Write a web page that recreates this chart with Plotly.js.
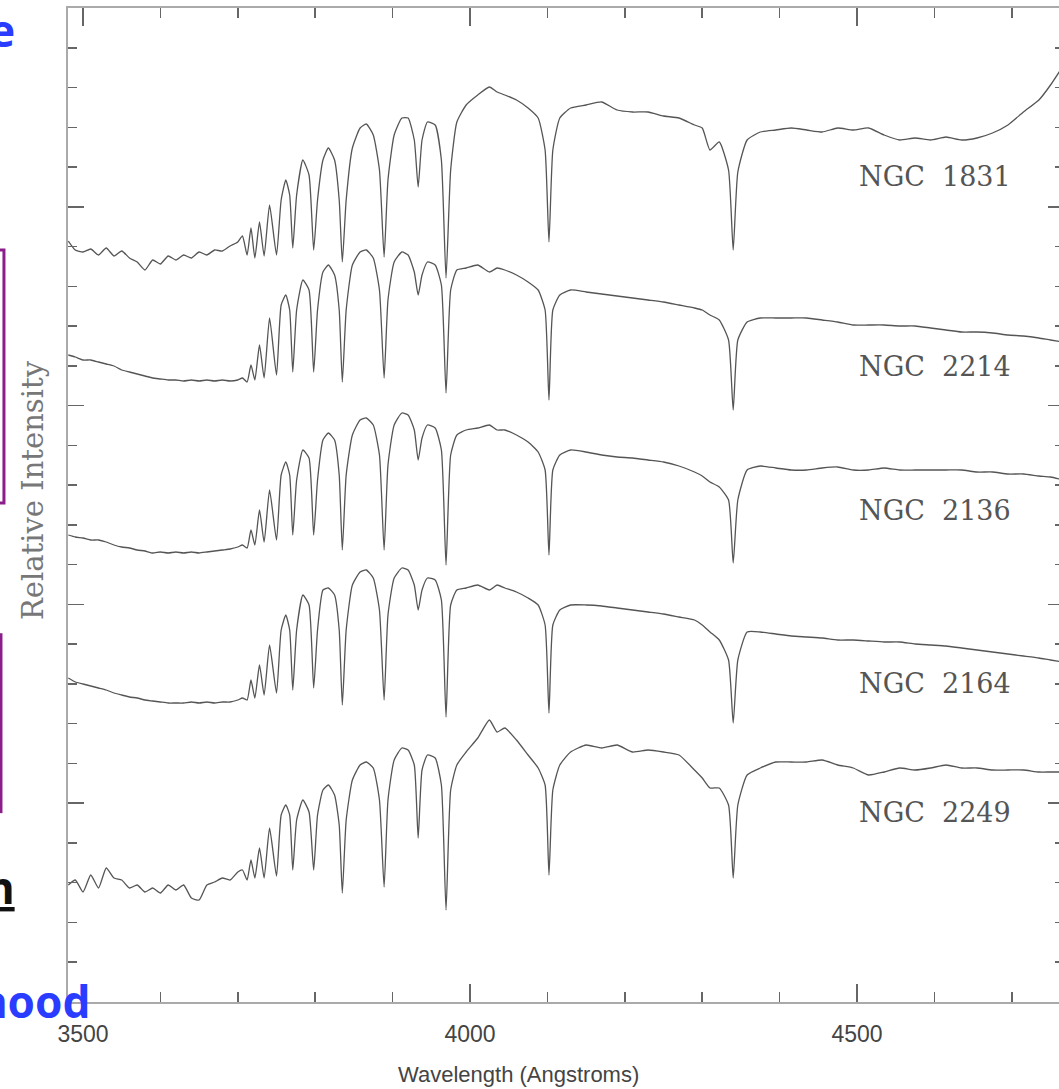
<!DOCTYPE html>
<html>
<head>
<meta charset="utf-8">
<script src="https://cdn.plot.ly/plotly-3.0.1.min.js"></script>
<style>
html,body{margin:0;padding:0;background:#fff;overflow:hidden;}
#chart{width:1074px;height:1089px;}
</style>
</head>
<body>
<div id="chart"></div>
<script>
// Wavelength grid (Angstroms)
const wavelength = [3481,3490,3500,3510,3520,3530,3540,3550,3560,3570,3580,3590,3600,3610,3620,3630,3640,3650,3660,3670,3680,3690,3700,3706,
3712,3717,3722,3728,3734,3741,3750,3756,3762,3767,3771,3776,3784,3792,3798,3803,3810,3817,3825,3831,3835,3840,3848,3858,3866,3875,3883,
3889,3894,3902,3912,3920,3928,3933,3938,3945,3955,3963,3969,3975,3983,3995,4010,4025,4035,4045,4060,4075,4088,4097,
4102,4107,4116,4130,4150,4170,4190,4210,4230,4250,4270,4290,4300,4310,4322,4334,4340,4346,4358,
4375,4395,4415,4435,4455,4475,4495,4515,4535,4555,4575,4595,4615,4635,4655,4675,4695,4715,4735,4750,4767];

// Relative intensity (with vertical offsets) for each cluster
const ngc1831 = [76.1,75.2,75.0,75.3,74.7,75.4,74.6,75.1,74.4,74.0,73.2,74.2,73.8,74.6,74.2,74.7,74.4,75.0,74.7,75.2,75.1,75.6,76.0,76.6,
74.7,77.4,74.4,78.0,74.6,79.7,74.7,80.2,82.2,80.7,75.4,80.7,84.2,82.7,75.2,80.2,84.2,85.4,84.2,80.2,74.0,80.2,85.4,87.4,87.8,86.7,83.2,
74.5,82.2,86.7,88.4,88.4,86.2,81.5,86.2,88.0,87.7,84.2,72.4,83.2,88.0,89.7,90.7,91.5,91.0,90.7,90.2,89.4,88.4,85.2,
76.0,85.2,88.4,89.4,89.7,90.0,89.2,89.0,89.0,88.6,88.4,87.7,87.4,85.2,86.0,83.2,75.2,83.0,86.2,
87.0,87.2,87.4,87.2,87.0,87.4,87.2,87.4,86.7,86.2,86.4,86.2,86.5,86.2,86.4,86.9,87.7,89.0,90.2,91.7,93.7];

const ngc2214 = [64.7,64.5,64.2,64.2,64.0,63.8,63.6,63.2,63.0,62.8,62.6,62.4,62.3,62.2,62.2,62.1,62.2,62.1,62.2,62.1,62.2,62.1,62.2,62.4,
62.0,63.7,62.2,65.7,62.4,68.4,62.7,69.7,70.7,69.2,63.0,69.2,72.2,71.2,63.0,69.2,73.0,73.7,72.7,69.2,62.0,69.2,73.7,75.0,75.2,74.4,71.2,
62.4,70.2,74.0,75.0,74.7,73.0,70.7,72.7,74.0,73.7,71.7,60.9,71.2,73.2,73.4,73.7,73.0,73.4,73.2,72.7,72.0,71.2,69.2,
60.2,69.2,70.7,71.2,71.0,70.8,70.6,70.4,70.2,70.0,69.7,69.4,69.2,68.7,68.2,66.2,59.2,66.2,68.0,
68.4,68.4,68.4,68.4,68.2,68.0,67.7,67.7,67.7,67.6,67.6,67.4,67.2,67.0,67.0,66.9,66.7,66.6,66.4,66.2,66.0];

const ngc2136 = [46.7,46.5,46.4,46.2,46.2,46.0,45.7,45.5,45.4,45.2,45.1,44.9,45.0,44.9,45.0,44.9,45.0,44.9,45.0,45.1,45.2,45.3,45.5,45.7,
45.4,47.2,45.7,49.2,46.0,51.2,46.2,52.7,54.0,52.7,46.7,52.2,55.2,54.4,46.7,52.2,56.2,56.9,56.2,52.7,45.2,52.7,56.7,58.2,58.4,57.7,54.7,
45.2,53.7,57.7,58.9,58.7,57.2,54.2,56.4,57.7,57.4,55.2,43.7,54.7,56.7,57.2,57.4,57.7,57.2,57.2,56.7,56.0,55.0,53.2,
44.7,53.2,54.7,55.2,55.0,54.7,54.5,54.4,54.2,54.0,53.6,53.0,52.6,52.0,51.5,50.2,43.9,50.2,53.2,
53.6,53.4,53.2,53.2,53.4,53.5,53.2,53.2,53.4,53.2,53.2,53.2,53.2,53.2,53.0,53.0,52.8,52.8,52.6,52.5,52.2];

const ngc2164 = [32.4,32.0,31.8,31.6,31.4,31.2,30.9,30.7,30.5,30.4,30.2,30.1,30.0,29.9,29.9,29.9,30.0,29.9,30.0,29.9,30.0,30.0,30.2,30.4,
30.2,32.2,30.4,33.7,30.7,35.7,30.9,37.2,38.7,37.2,31.2,37.2,40.7,39.7,31.4,37.2,41.2,41.4,40.7,37.2,29.7,37.2,41.7,43.0,43.2,42.4,39.2,
30.2,38.7,42.4,43.4,43.2,41.7,39.2,41.2,42.4,42.2,40.2,28.5,39.7,41.2,41.4,41.7,41.2,41.7,41.4,41.0,40.4,39.7,37.7,
28.9,37.7,39.2,39.7,39.7,39.6,39.4,39.2,39.0,38.8,38.5,38.2,37.7,37.0,36.2,34.2,27.9,34.2,37.0,
37.0,36.8,36.6,36.5,36.4,36.2,36.2,36.1,36.0,36.0,35.8,35.7,35.6,35.4,35.2,35.0,34.8,34.6,34.4,34.2,34.0];

const ngc2249 = [11.7,12.2,11.0,12.7,11.4,13.4,12.4,12.2,11.4,11.7,11.0,11.4,10.9,11.7,11.2,11.7,10.4,10.2,11.7,12.0,12.4,12.2,13.0,13.2,
12.2,14.2,12.4,15.4,12.4,17.4,12.6,18.7,19.7,18.7,13.2,18.2,20.2,19.0,13.2,18.7,21.2,21.7,20.7,17.7,10.9,18.2,22.2,23.7,24.0,23.4,20.2,
11.5,20.2,24.2,25.4,25.2,23.7,16.4,23.2,24.7,24.4,21.7,9.2,21.2,23.7,25.0,26.4,28.2,27.0,27.4,26.2,24.7,23.4,21.7,
12.7,21.2,23.7,25.0,25.7,25.4,25.7,25.0,25.2,25.0,24.7,23.2,22.4,21.4,21.4,19.7,12.4,19.7,22.7,
23.4,24.0,24.0,24.0,24.2,23.7,23.4,22.7,23.0,23.4,23.2,23.4,23.7,23.4,23.4,23.2,23.2,23.2,23.0,23.0,23.0];

const clusterNames = ["NGC 1831","NGC 2214","NGC 2136","NGC 2164","NGC 2249"];
const labelWavelength = 4500;
const labelLevels = [82.6, 63.6, 49.2, 31.9, 19.0];

const seriesList = [ngc1831, ngc2214, ngc2136, ngc2164, ngc2249];
const traces = seriesList.map((ys, i) => ({
  type: 'scatter', mode: 'lines', x: wavelength, y: ys, name: clusterNames[i],
  line: {color: '#555', width: 1.3, shape: 'spline', smoothing: 0.5}, hoverinfo: 'skip'
}));

const nb = '\u00a0';
const annotations = clusterNames.map((n, i) => ({
  x: labelWavelength, y: labelLevels[i], xref: 'x', yref: 'y',
  text: n.replace(' ', nb + ' '), showarrow: false, xanchor: 'left', yanchor: 'middle',
  font: {family: 'DejaVu Serif', size: 27, color: '#555'}
}));

// axis titles
annotations.push({x: 0.4528, y: -0.0734, xref: 'paper', yref: 'paper', text: 'Wavelength (Angstroms)',
  showarrow: false, xanchor: 'center', yanchor: 'middle',
  font: {family: 'Liberation Sans', size: 22, color: '#444'}});
annotations.push({x: -0.0351, y: 0.5151, xref: 'paper', yref: 'paper', text: 'Relative Intensity',
  showarrow: false, textangle: -90, xanchor: 'center', yanchor: 'middle',
  font: {family: 'DejaVu Serif', size: 29, color: '#777'}});

// slide overlay fragments
annotations.push({x: -0.0512, y: 0.9779, xref: 'paper', yref: 'paper', text: '<b>e</b>',
  showarrow: false, xanchor: 'right', yanchor: 'middle',
  font: {family: 'Noto Sans', size: 44, color: '#2a3cff'}});
annotations.push({x: -0.0512, y: 0.1157, xref: 'paper', yref: 'paper', text: '<b><u>n</u></b>',
  showarrow: false, xanchor: 'right', yanchor: 'middle',
  font: {family: 'Noto Sans', size: 44, color: '#111'}});
annotations.push({x: 0.0241, y: 0.001, xref: 'paper', yref: 'paper', text: '<b>hood</b>',
  showarrow: false, xanchor: 'right', yanchor: 'middle',
  font: {family: 'Noto Sans', size: 44, color: '#2a3cff'}});

const shapes = [
  {type: 'rect', xref: 'paper', yref: 'paper', x0: -0.1687, x1: -0.0643, y0: 0.502, y1: 0.7565,
   line: {color: '#8b1e8b', width: 3}},
  {type: 'line', xref: 'paper', yref: 'paper', x0: -0.0673, x1: -0.0673, y0: 0.190, y1: 0.371,
   line: {color: '#8b1e8b', width: 3}}
];

const layout = {
  width: 1074, height: 1089,
  margin: {l: 68, r: 10, t: 8, b: 87},
  paper_bgcolor: '#fff', plot_bgcolor: '#fff',
  showlegend: false,
  xaxis: {
    range: [3480.6, 4767.4], tickmode: 'linear', tick0: 3500, dtick: 500,
    ticks: 'inside', ticklen: 18, tickwidth: 1.5, tickcolor: '#666',
    showline: true, linecolor: '#aaa', linewidth: 2, mirror: 'ticks',
    showgrid: false, zeroline: false, ticklabelstandoff: 10,
    tickfont: {family: 'Liberation Sans', size: 23, color: '#444'},
    minor: {tick0: 3500, dtick: 100, ticks: 'inside', ticklen: 10, tickwidth: 1.5, tickcolor: '#666', showgrid: false}
  },
  yaxis: {
    range: [0, 99.4], tickmode: 'linear', tick0: 0, dtick: 19.88,
    ticks: 'inside', ticklen: 16, tickwidth: 1.5, tickcolor: '#666',
    showline: true, linecolor: '#aaa', linewidth: 2, mirror: 'ticks',
    showgrid: false, zeroline: false, showticklabels: false,
    minor: {tick0: 0, dtick: 3.976, ticks: 'inside', ticklen: 9, tickwidth: 1.5, tickcolor: '#666', showgrid: false}
  },
  annotations: annotations,
  shapes: shapes
};

Plotly.newPlot('chart', traces, layout, {displayModeBar: false, staticPlot: true});
</script>
</body>
</html>
